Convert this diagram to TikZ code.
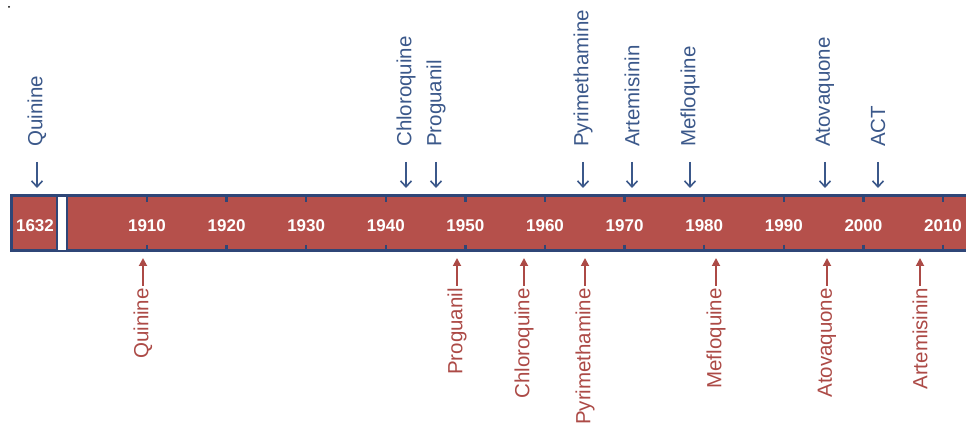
\documentclass[tikz,border=0pt]{standalone}
\usepackage{fontspec}
\setmainfont{Liberation Sans}
\usetikzlibrary{arrows.meta}
\definecolor{barred}{RGB}{181,80,75}
\definecolor{barblue}{RGB}{47,70,119}
\definecolor{topblue}{RGB}{59,88,138}
\definecolor{botred}{RGB}{172,74,70}
\tikzset{
	toplab/.style={rotate=90, anchor=west, inner sep=0pt, text=topblue, font=\fontsize{20.5}{24}\selectfont},
	botlab/.style={rotate=90, anchor=east, inner sep=0pt, text=botred, font=\fontsize{20.5}{24}\selectfont},
	toparr/.style={draw=topblue, line width=1.6pt, shorten <=15pt, -{Straight Barb[length=6pt, width=11pt, line width=1.6pt]}},
	botarr/.style={draw=botred, line width=1.8pt, shorten <=2pt, -{Triangle[length=8pt, width=8pt]}},
	yearlab/.style={text=white, font=\bfseries\fontsize{17}{20}\selectfont}
}

\begin{document}
\begin{tikzpicture}[x=1pt, y=-1pt]
			%%%%% START %%%%%
			\useasboundingbox (0, 0) rectangle (966, 430);
			\clip (0, 0) rectangle (966, 430);
			
			\fill (9, 7) circle (1);
			
			% the time bar
			\fill[barred] (11, 196) rectangle (985, 251);
			\draw[barblue, line width=3pt] (11, 196) rectangle (985, 251);
			\draw[barblue, line width=2.5pt, fill=white] (57, 196) rectangle (67, 251);
			\foreach \i in {0,...,10}
				\draw[barblue, line width=2.5pt] (147+79.6*\i, 196) -- (147+79.6*\i, 202)
					(147+79.6*\i, 245) -- (147+79.6*\i, 251);
			
			\node[yearlab] (y1632) at (35, 226) {1632};
			\foreach \yr [count=\i from 0] in {1910,1920,...,2010}
				\node[yearlab] (y\yr) at (147+79.6*\i, 226) {\yr};
			
			\coordinate (topline) at (0, 188);
			\coordinate (botline) at (0, 258);
			
			% above the bar
			\node[toplab] (tquin) at (37, 147) {Quinine};
			\node[toplab] (tchlo) at (406, 147) {Chloroquine};
			\node[toplab] (tprog) at (436, 147) {Proguanil};
			\node[toplab] (tpyri) at (583, 147) {Pyrimethamine};
			\node[toplab] (tarte) at (632, 147) {Artemisinin};
			\node[toplab] (tmefl) at (690, 147) {Mefloquine};
			\node[toplab] (tatov) at (825, 147) {Atovaquone};
			\node[toplab] (tact) at (878, 147) {ACT};
			
			\draw[toparr] (tquin) -- (tquin |- topline);
			\draw[toparr] (tchlo) -- (tchlo |- topline);
			\draw[toparr] (tprog) -- (tprog |- topline);
			\draw[toparr] (tpyri) -- (tpyri |- topline);
			\draw[toparr] (tarte) -- (tarte |- topline);
			\draw[toparr] (tmefl) -- (tmefl |- topline);
			\draw[toparr] (tatov) -- (tatov |- topline);
			\draw[toparr] (tact) -- (tact |- topline);
			
			% below the bar
			\node[botlab] (bquin) at (143, 288) {Quinine};
			\node[botlab] (bprog) at (457, 288) {Proguanil};
			\node[botlab] (bchlo) at (524, 288) {Chloroquine};
			\node[botlab] (bpyri) at (585, 288) {Pyrimethamine};
			\node[botlab] (bmefl) at (716, 288) {Mefloquine};
			\node[botlab] (batov) at (827, 288) {Atovaquone};
			\node[botlab] (barte) at (920, 288) {Artemisinin};
			
			\draw[botarr] (bquin) -- (bquin |- botline);
			\draw[botarr] (bprog) -- (bprog |- botline);
			\draw[botarr] (bchlo) -- (bchlo |- botline);
			\draw[botarr] (bpyri) -- (bpyri |- botline);
			\draw[botarr] (bmefl) -- (bmefl |- botline);
			\draw[botarr] (batov) -- (batov |- botline);
			\draw[botarr] (barte) -- (barte |- botline);
			
			%%%%% END %%%%%
\end{tikzpicture}
\end{document}
